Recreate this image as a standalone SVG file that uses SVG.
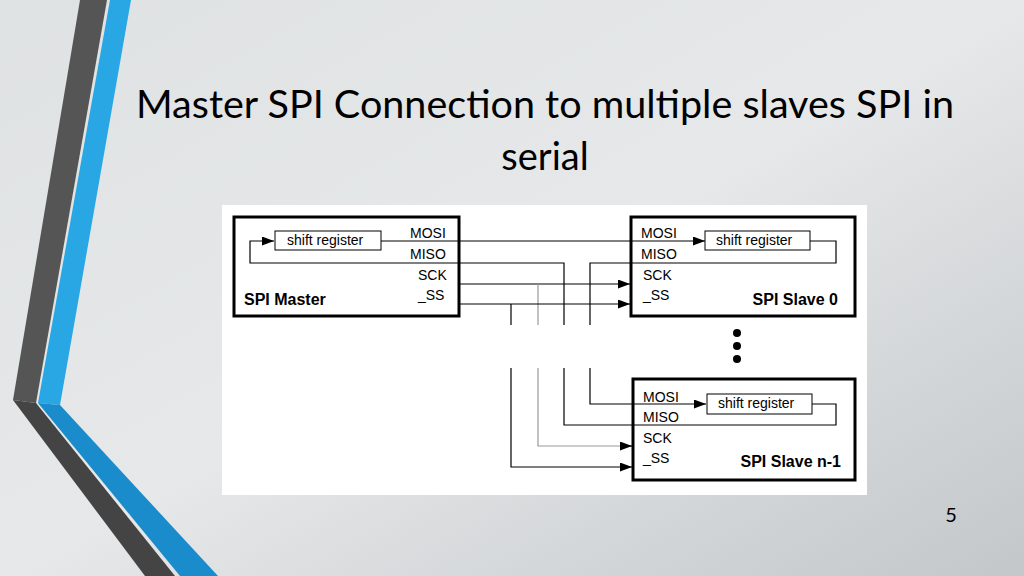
<svg xmlns="http://www.w3.org/2000/svg" width="1024" height="576" viewBox="0 0 1024 576">
<defs>
<linearGradient id="bg" x1="0" y1="0" x2="1" y2="1">
<stop offset="0" stop-color="#dfe2e3"/><stop offset="0.5" stop-color="#e6e8e9"/><stop offset="1" stop-color="#c3c7c9"/>
</linearGradient>
<marker id="ar" viewBox="0 0 10 10" refX="10" refY="5" markerWidth="12" markerHeight="9" markerUnits="userSpaceOnUse" orient="auto" preserveAspectRatio="none">
<path d="M0,0 L10,5 L0,10 z" fill="#000"/>
</marker>
<style>
.box{fill:#fff;stroke:#000;stroke-width:3}
.sr{fill:#fff;stroke:#000;stroke-width:1}
.w{fill:none;stroke:#000;stroke-width:1.2}
.g{fill:none;stroke:#999;stroke-width:1.2}
.a{marker-end:url(#ar)}
.t{font-family:"Liberation Sans",Arial,sans-serif;font-size:14px;fill:#000}
.b{font-family:"Liberation Sans",Arial,sans-serif;font-size:16px;font-weight:bold;fill:#000}
.ti{font-family:Lato,"Open Sans",sans-serif;font-size:38px;fill:#000}
</style>
</defs>
<rect width="1024" height="576" fill="url(#bg)"/>
<polygon points="80,0 107,0 36,403 13,400" fill="#555"/>
<polygon points="110,0 131,0 60,405 38,403" fill="#29a6e4"/>
<polygon points="13,400 36,403 175,576 145,576" fill="#444"/>
<polygon points="38,403 60,405 218,576 180,576" fill="#1a8ccc"/>
<text class="ti" x="545" y="118" text-anchor="middle" textLength="818" lengthAdjust="spacingAndGlyphs">Master SPI Connection to multiple slaves SPI in</text>
<text class="ti" x="545" y="170" text-anchor="middle">serial</text>
<text x="951" y="522" text-anchor="middle" style="font-family:Lato,sans-serif;font-size:20px">5</text>
<rect x="222" y="205" width="645" height="290" fill="#fff"/>
<g id="master">
<rect class="box" x="234" y="217" width="225" height="99"/>
<rect class="sr" x="275" y="231" width="106" height="19"/>
<text class="t" x="287" y="245">shift register</text>
<text class="t" x="410" y="238">MOSI</text><text class="t" x="410" y="259">MISO</text>
<text class="t" x="418" y="280">SCK</text><text class="t" x="418" y="300">_SS</text>
<text class="b" x="244" y="305">SPI Master</text>
</g>
<g id="slave0">
<rect class="box" x="631" y="217" width="224" height="99"/>
<rect class="sr" x="705" y="231" width="105" height="19"/>
<text class="t" x="716" y="245">shift register</text>
<text class="t" x="641" y="238">MOSI</text><text class="t" x="641" y="259">MISO</text>
<text class="t" x="643" y="280">SCK</text><text class="t" x="643" y="300">_SS</text>
<text class="b" x="838" y="305" text-anchor="end">SPI Slave 0</text>
</g>
<g id="slaven1">
<rect class="box" x="633" y="379" width="222" height="101"/>
<rect class="sr" x="707" y="394" width="105" height="20"/>
<text class="t" x="718" y="408">shift register</text>
<text class="t" x="643" y="402">MOSI</text><text class="t" x="643" y="422">MISO</text>
<text class="t" x="643" y="443">SCK</text><text class="t" x="643" y="463">_SS</text>
<text class="b" x="841" y="467" text-anchor="end">SPI Slave n-1</text>
</g>
<g id="dots" fill="#000">
<circle cx="737" cy="333" r="4"/><circle cx="737" cy="346" r="4"/><circle cx="737" cy="359" r="4"/>
</g>
<g id="connectors">
<path class="w a" d="M381,241 H705"/>
<path class="w a" d="M564,325 V263 H250 V241 H274"/>
<path class="w" d="M810,241 H836 V263 H590 V325"/>
<path class="w a" d="M459,284 H630"/>
<path class="g" d="M538,284 V325"/>
<path class="w a" d="M459,304 H630"/>
<path class="w" d="M511,304 V325"/>
<path class="w a" d="M590,368 V404 H706"/>
<path class="w" d="M812,404 H836 V425 H564 V368"/>
<path class="g" d="M538,368 V446 H620"/>
<path class="w a" d="M620,446 H632"/>
<path class="w a" d="M511,368 V467 H632"/>
</g>
</svg>
